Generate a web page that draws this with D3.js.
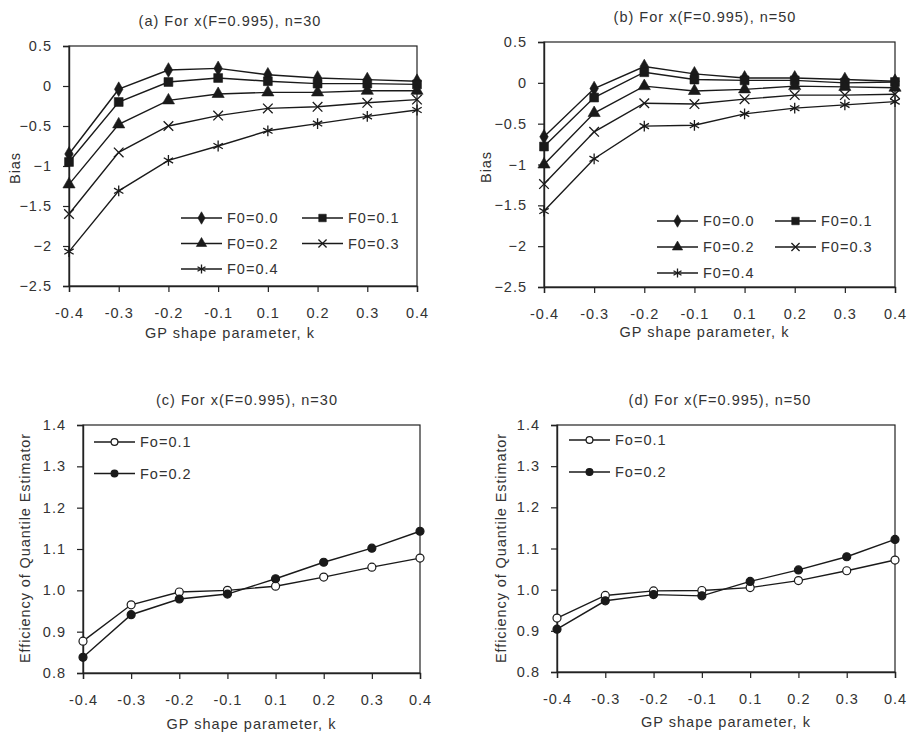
<!DOCTYPE html>
<html>
<head>
<meta charset="utf-8">
<script src="https://cdn.jsdelivr.net/npm/d3@7"></script>
<style>
  body { margin: 0; background: #fff; }
  text { font-family: "Liberation Sans", Arial, sans-serif; fill: #333; }
</style>
</head>
<body>
<div class="chart"></div>
<script>
// Shape parameter categories (x axis)
const kLabels = ["-0.4", "-0.3", "-0.2", "-0.1", "0.1", "0.2", "0.3", "0.4"];

// Bias, n=30 (panel a)
const biasN30 = {
  "F0=0.0": [-0.85, -0.04, 0.2, 0.22, 0.14, 0.1, 0.08, 0.06],
  "F0=0.1": [-0.95, -0.2, 0.05, 0.1, 0.06, 0.03, 0.03, 0.02],
  "F0=0.2": [-1.23, -0.48, -0.18, -0.1, -0.08, -0.08, -0.06, -0.06],
  "F0=0.3": [-1.6, -0.83, -0.5, -0.37, -0.28, -0.26, -0.21, -0.17],
  "F0=0.4": [-2.07, -1.31, -0.93, -0.75, -0.56, -0.47, -0.38, -0.3]
};

// Bias, n=50 (panel b)
const biasN50 = {
  "F0=0.0": [-0.66, -0.07, 0.2, 0.11, 0.06, 0.06, 0.04, 0.02],
  "F0=0.1": [-0.78, -0.18, 0.13, 0.04, 0.03, 0.03, 0.0, 0.01],
  "F0=0.2": [-1.0, -0.37, -0.04, -0.1, -0.08, -0.04, -0.05, -0.06],
  "F0=0.3": [-1.24, -0.6, -0.25, -0.26, -0.2, -0.15, -0.15, -0.14],
  "F0=0.4": [-1.57, -0.93, -0.53, -0.52, -0.38, -0.31, -0.27, -0.23]
};

// Efficiency, n=30 (panel c) and n=50 (panel d)
const effN30 = {
  "Fo=0.1": [0.877, 0.965, 0.996, 1.0, 1.01, 1.032, 1.056, 1.078],
  "Fo=0.2": [0.838, 0.941, 0.979, 0.991, 1.028, 1.068, 1.102, 1.143]
};
const effN50 = {
  "Fo=0.1": [0.931, 0.986, 0.997, 0.998, 1.005, 1.022, 1.046, 1.072],
  "Fo=0.2": [0.904, 0.973, 0.988, 0.985, 1.02, 1.048, 1.08, 1.122]
};

const biasTicks = [0.5, 0, -0.5, -1, -1.5, -2, -2.5];
const effTicks = [1.4, 1.3, 1.2, 1.1, 1.0, 0.9, 0.8];

// Marker per series
const markers = {
  "F0=0.0": { type: d3.symbolDiamond, size: 62, fill: true },
  "F0=0.1": { type: d3.symbolSquare, size: 78, fill: true },
  "F0=0.2": { type: d3.symbolTriangle, size: 64, fill: true },
  "F0=0.3": { type: d3.symbolTimes, size: 62, fill: false },
  "F0=0.4": { type: d3.symbolAsterisk, size: 82, fill: false },
  "Fo=0.1": { circle: true, fill: false },
  "Fo=0.2": { circle: true, fill: true }
};

const svg = d3.select(".chart").append("svg")
  .attr("width", 909).attr("height", 734);
svg.append("rect").attr("width", 909).attr("height", 734).attr("fill", "#fff");

const ink = "#1a1a1a";
const fontSize = "14.5px";
const spacing = "1px";

function drawMarker(g, name, x, y, scale) {
  const m = markers[name];
  if (m.circle) {
    g.append("circle").attr("cx", x).attr("cy", y).attr("r", 4 * scale)
      .attr("fill", m.fill ? ink : "#fff").attr("stroke", ink).attr("stroke-width", 1.2);
    return;
  }
  g.append("path")
    .attr("transform", `translate(${x},${y})`)
    .attr("d", d3.symbol(m.type, m.size * scale * scale)())
    .attr("fill", m.fill ? ink : "none")
    .attr("stroke", ink)
    .attr("stroke-width", m.fill ? 0.6 : 1.3);
}

function drawPanel(p) {
  const g = svg.append("g");
  const x = d3.scalePoint().domain(kLabels).range([p.left, p.right]).padding(0);
  const y = d3.scaleLinear().domain(p.domain).range([p.bottom, p.top]);

  // frame
  g.append("rect")
    .attr("x", p.left).attr("y", p.top)
    .attr("width", p.right - p.left).attr("height", p.bottom - p.top)
    .attr("fill", "none").attr("stroke", "#222").attr("stroke-width", 1.2);

  const yAxis = g.append("g").attr("transform", `translate(${p.left},0)`)
    .call(d3.axisLeft(y).tickValues(p.ticks).tickSizeOuter(0).tickSize(6).tickPadding(11)
      .tickFormat(p.format));
  const xAxis = g.append("g").attr("transform", `translate(0,${p.bottom})`)
    .call(d3.axisBottom(x).tickSizeOuter(0).tickSize(6).tickPadding(16));
  [xAxis, yAxis].forEach(a => {
    a.select(".domain").attr("stroke", "#222").attr("stroke-width", 1.4);
    a.selectAll(".tick line").attr("stroke", "#222").attr("stroke-width", 1.2);
    a.selectAll("text").attr("font-size", fontSize).attr("letter-spacing", spacing)
      .attr("fill", "#333").attr("font-family", null);
  });

  // series
  const line = d3.line().x((d, i) => x(kLabels[i])).y(d => y(d));
  Object.entries(p.data).forEach(([name, vals]) => {
    g.append("path").datum(vals).attr("d", line)
      .attr("fill", "none").attr("stroke", ink).attr("stroke-width", 1.4);
    vals.forEach((v, i) => drawMarker(g, name, x(kLabels[i]), y(v), 1));
  });

  // titles
  g.append("text").attr("x", p.titleX).attr("y", p.titleY).attr("text-anchor", "middle")
    .attr("font-size", fontSize).attr("letter-spacing", spacing).text(p.title);
  g.append("text").attr("x", (p.left + p.right) / 2 + p.xLabelShift).attr("y", p.xLabelY)
    .attr("text-anchor", "middle").attr("font-size", fontSize).attr("letter-spacing", spacing)
    .text("GP shape parameter, k");
  g.append("text")
    .attr("transform", `translate(${p.yLabelX},${p.yLabelY}) rotate(-90)`)
    .attr("text-anchor", "middle").attr("font-size", fontSize).attr("letter-spacing", "0.9px")
    .text(p.yLabel);

  // legend
  const names = Object.keys(p.data);
  names.forEach((name, i) => {
    const col = i % p.legend.cols, row = Math.floor(i / p.legend.cols);
    const lx = p.legend.x + col * p.legend.colW;
    const ly = p.legend.y + row * p.legend.rowH;
    g.append("line").attr("x1", lx).attr("x2", lx + 41).attr("y1", ly).attr("y2", ly)
      .attr("stroke", ink).attr("stroke-width", 1.4);
    drawMarker(g, name, lx + 20.5, ly, 0.85);
    g.append("text").attr("x", lx + 46).attr("y", ly).attr("dy", "0.36em")
      .attr("font-size", fontSize).attr("letter-spacing", spacing).text(name);
  });
}

drawPanel({
  data: biasN30, left: 69, right: 417, top: 46, bottom: 286,
  domain: [-2.5, 0.5], ticks: biasTicks, format: d3.format(""),
  title: "(a) For x(F=0.995), n=30", titleX: 230, titleY: 26,
  xLabelY: 338, xLabelShift: -13, yLabel: "Bias", yLabelX: 20, yLabelY: 168,
  legend: { x: 181, y: 218, cols: 2, colW: 121, rowH: 25.5 }
});
drawPanel({
  data: biasN50, left: 544, right: 895, top: 42, bottom: 287,
  domain: [-2.5, 0.5], ticks: biasTicks, format: d3.format(""),
  title: "(b) For x(F=0.995), n=50", titleX: 705, titleY: 22,
  xLabelY: 337, xLabelShift: -15, yLabel: "Bias", yLabelX: 491, yLabelY: 167,
  legend: { x: 657, y: 221, cols: 2, colW: 118, rowH: 26 }
});
drawPanel({
  data: effN30, left: 83, right: 420, top: 425, bottom: 673,
  domain: [0.8, 1.4], ticks: effTicks, format: d3.format(".1f"),
  title: "(c) For x(F=0.995), n=30", titleX: 247, titleY: 405,
  xLabelY: 729, xLabelShift: 0, yLabel: "Efficiency of Quantile Estimator", yLabelX: 30, yLabelY: 548,
  legend: { x: 94, y: 442, cols: 1, colW: 0, rowH: 31.5 }
});
drawPanel({
  data: effN50, left: 557, right: 895, top: 425, bottom: 672,
  domain: [0.8, 1.4], ticks: effTicks, format: d3.format(".1f"),
  title: "(d) For x(F=0.995), n=50", titleX: 720, titleY: 405,
  xLabelY: 727, xLabelShift: 0, yLabel: "Efficiency of Quantile Estimator", yLabelX: 506, yLabelY: 548,
  legend: { x: 569, y: 440, cols: 1, colW: 0, rowH: 32 }
});
</script>
</body>
</html>
